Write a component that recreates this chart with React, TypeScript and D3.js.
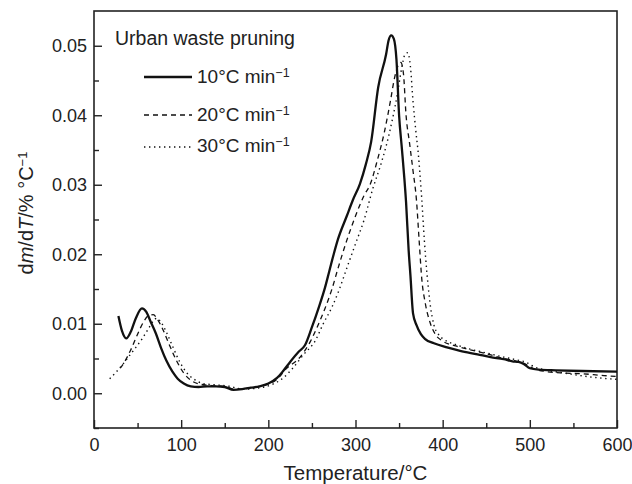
import React, { useEffect, useRef } from 'react';
import * as d3 from 'd3';

// heating rate 10 °C/min
const temps10 = [28, 32, 37, 42, 48, 55, 60, 65, 71, 77, 83, 90, 96, 103, 111, 120, 130, 140, 150, 160, 170, 180, 190, 200, 210, 217, 225, 235, 242, 250, 258, 265, 270, 275, 280, 290, 297, 305, 312, 318, 326, 335, 338, 341, 344, 347, 350, 353, 356, 358, 361, 363, 366, 370, 375, 380, 390, 405, 420, 440, 455, 470, 480, 487, 493, 500, 510, 530, 560, 600];
const rate10 = [0.0111, 0.0090, 0.0079, 0.0088, 0.0108, 0.0122, 0.0117, 0.0103, 0.0086, 0.0065, 0.0047, 0.0031, 0.0021, 0.0014, 0.0010, 0.0009, 0.0010, 0.0010, 0.0009, 0.0005, 0.0006, 0.0008, 0.0010, 0.0014, 0.0022, 0.0032, 0.0045, 0.0060, 0.0069, 0.0095, 0.0124, 0.0152, 0.0176, 0.0200, 0.0222, 0.0255, 0.0278, 0.0301, 0.0330, 0.0362, 0.0440, 0.0487, 0.0508, 0.0515, 0.0510, 0.0480, 0.0400, 0.0355, 0.0310, 0.0275, 0.0205, 0.0170, 0.0115, 0.0098, 0.0085, 0.0078, 0.0072, 0.0066, 0.0061, 0.0056, 0.0052, 0.0049, 0.0046, 0.0045, 0.0042, 0.0036, 0.0034, 0.0033, 0.0032, 0.0031];

// heating rate 20 °C/min
const temps20 = [30, 35, 42, 50, 57, 63, 68, 73, 80, 87, 95, 103, 112, 122, 135, 150, 160, 170, 180, 190, 200, 210, 221, 235, 248, 256, 265, 273, 280, 290, 300, 310, 317, 325, 333, 340, 345, 349, 352, 355, 358, 362, 366, 370, 373, 376, 380, 386, 392, 400, 415, 430, 450, 470, 485, 495, 505, 520, 540, 560, 580, 600];
const rate20 = [0.0036, 0.0045, 0.0062, 0.0085, 0.0103, 0.0112, 0.0113, 0.0106, 0.0089, 0.0068, 0.0046, 0.0029, 0.0018, 0.0013, 0.0011, 0.0010, 0.0006, 0.0006, 0.0008, 0.0010, 0.0013, 0.0020, 0.0036, 0.0050, 0.0074, 0.0095, 0.0122, 0.0150, 0.0180, 0.0220, 0.0255, 0.0285, 0.0301, 0.0335, 0.0375, 0.0420, 0.0455, 0.0472, 0.0476, 0.0460, 0.0400, 0.0360, 0.0320, 0.0277, 0.0220, 0.0165, 0.0130, 0.0100, 0.0084, 0.0075, 0.0068, 0.0063, 0.0057, 0.0050, 0.0046, 0.0042, 0.0035, 0.0031, 0.0029, 0.0028, 0.0026, 0.0024];

// heating rate 30 °C/min
const temps30 = [18, 25, 32, 40, 48, 55, 62, 68, 72, 77, 83, 90, 98, 106, 115, 125, 140, 155, 165, 175, 185, 195, 205, 215, 228, 240, 254, 263, 273, 281, 290, 300, 310, 320, 328, 335, 342, 348, 353, 357, 360, 363, 366, 369, 372, 376, 379, 382, 386, 390, 395, 402, 415, 430, 450, 470, 485, 495, 505, 520, 540, 560, 580, 600];
const rate30 = [0.0021, 0.0030, 0.0040, 0.0053, 0.0066, 0.0078, 0.0092, 0.0104, 0.0108, 0.0102, 0.0088, 0.0068, 0.0046, 0.0030, 0.0020, 0.0014, 0.0012, 0.0010, 0.0007, 0.0006, 0.0007, 0.0009, 0.0013, 0.0020, 0.0036, 0.0055, 0.0076, 0.0100, 0.0124, 0.0148, 0.0180, 0.0215, 0.0250, 0.0295, 0.0325, 0.0355, 0.0392, 0.0430, 0.0468, 0.0488, 0.0490, 0.0470, 0.0420, 0.0380, 0.0345, 0.0280, 0.0220, 0.0172, 0.0125, 0.0098, 0.0085, 0.0077, 0.0070, 0.0064, 0.0058, 0.0052, 0.0048, 0.0045, 0.0038, 0.0033, 0.0029, 0.0025, 0.0022, 0.0020];

const xTicks = [0, 100, 200, 300, 400, 500, 600];
const xMinor = [50, 150, 250, 350, 450, 550];
const yTicks = [0.00, 0.01, 0.02, 0.03, 0.04, 0.05];
const yMinor = [-0.005, 0.005, 0.015, 0.025, 0.035, 0.045];
const seriesNames = ['10°C min', '20°C min', '30°C min'];

const W = 632, H = 484;
const margin = { top: 11, right: 15, bottom: 56, left: 94 };
const FONT = '"Liberation Sans", Arial, Helvetica, sans-serif';

export default function App() {
    const ref = useRef<SVGSVGElement>(null);

    useEffect(() => {
        document.body.style.margin = '0';
        const svg = d3.select(ref.current);
        svg.selectAll('*').remove();

        const w = W - margin.left - margin.right;
        const h = H - margin.top - margin.bottom;

        const x = d3.scaleLinear().domain([0, 600]).range([0, w]);
        const y = d3.scaleLinear().domain([-0.005, 0.055]).range([h, 0]);

        const g = svg.append('g').attr('transform', `translate(${margin.left},${margin.top})`);

        // ticks point inward
        const xAxis = g.append('g').attr('transform', `translate(0,${h})`)
            .call(d3.axisBottom(x).tickValues(xTicks).tickSize(-8).tickPadding(10).tickFormat(d3.format('d')));
        g.append('g').attr('transform', `translate(0,${h})`)
            .call(d3.axisBottom(x).tickValues(xMinor).tickSize(-5).tickFormat(() => ''));
        const yAxis = g.append('g')
            .call(d3.axisLeft(y).tickValues(yTicks).tickSize(-8).tickPadding(7).tickFormat(d3.format('.2f')));
        g.append('g')
            .call(d3.axisLeft(y).tickValues(yMinor).tickSize(-5).tickFormat(() => ''));

        g.selectAll('.domain').remove();
        g.selectAll('.tick line').attr('stroke', '#222').attr('stroke-width', 1.4);
        [xAxis, yAxis].forEach(a => a.selectAll('text')
            .attr('font-family', FONT).attr('font-size', 18).attr('fill', '#222'));

        g.append('rect')
            .attr('width', w).attr('height', h)
            .attr('fill', 'none').attr('stroke', '#222').attr('stroke-width', 1.6);

        const line = d3.line<[number, number]>()
            .x(d => x(d[0]))
            .y(d => y(d[1]))
            .curve(d3.curveMonotoneX);

        const styles = [
            { width: 2.3, dash: null },
            { width: 1.3, dash: '5,4' },
            { width: 1.4, dash: '1.4,3.6' }
        ];
        const series: [number, number][][] = [
            temps10.map((t, i) => [t, rate10[i]]),
            temps20.map((t, i) => [t, rate20[i]]),
            temps30.map((t, i) => [t, rate30[i]])
        ];

        series.forEach((pts, i) => {
            g.append('path')
                .datum(pts)
                .attr('d', line)
                .attr('fill', 'none')
                .attr('stroke', '#111')
                .attr('stroke-width', styles[i].width)
                .attr('stroke-dasharray', styles[i].dash);
        });

        // legend
        svg.append('text')
            .attr('x', 115).attr('y', 45)
            .attr('font-family', FONT).attr('font-size', 19.5).attr('fill', '#222')
            .text('Urban waste pruning');

        const lineY = [77, 115, 147];
        const textY = [83, 121, 152];
        seriesNames.forEach((name, i) => {
            svg.append('line')
                .attr('x1', 144).attr('x2', 192)
                .attr('y1', lineY[i]).attr('y2', lineY[i])
                .attr('stroke', '#111')
                .attr('stroke-width', styles[i].width)
                .attr('stroke-dasharray', styles[i].dash);
            const t = svg.append('text')
                .attr('x', 197).attr('y', textY[i])
                .attr('font-family', FONT).attr('font-size', 19).attr('fill', '#222');
            t.append('tspan').text(name);
            t.append('tspan').attr('dy', '-0.45em').attr('font-size', 12.5).text('−1');
        });

        // axis titles
        svg.append('text')
            .attr('x', margin.left + w / 2).attr('y', 480)
            .attr('text-anchor', 'middle')
            .attr('font-family', FONT).attr('font-size', 20.5).attr('fill', '#222')
            .text('Temperature/°C');

        const yl = svg.append('text')
            .attr('transform', 'translate(33,213) rotate(-90)')
            .attr('text-anchor', 'middle')
            .attr('font-family', FONT).attr('font-size', 20).attr('fill', '#222');
        yl.append('tspan').text('d');
        yl.append('tspan').attr('font-style', 'italic').text('m');
        yl.append('tspan').text('/d');
        yl.append('tspan').attr('font-style', 'italic').text('T');
        yl.append('tspan').text('/% °C');
        yl.append('tspan').attr('dy', '-0.45em').attr('font-size', 13).text('−1');
    }, []);

    return <svg ref={ref} width={W} height={H} style={{ display: 'block', background: '#fff' }} />;
}
